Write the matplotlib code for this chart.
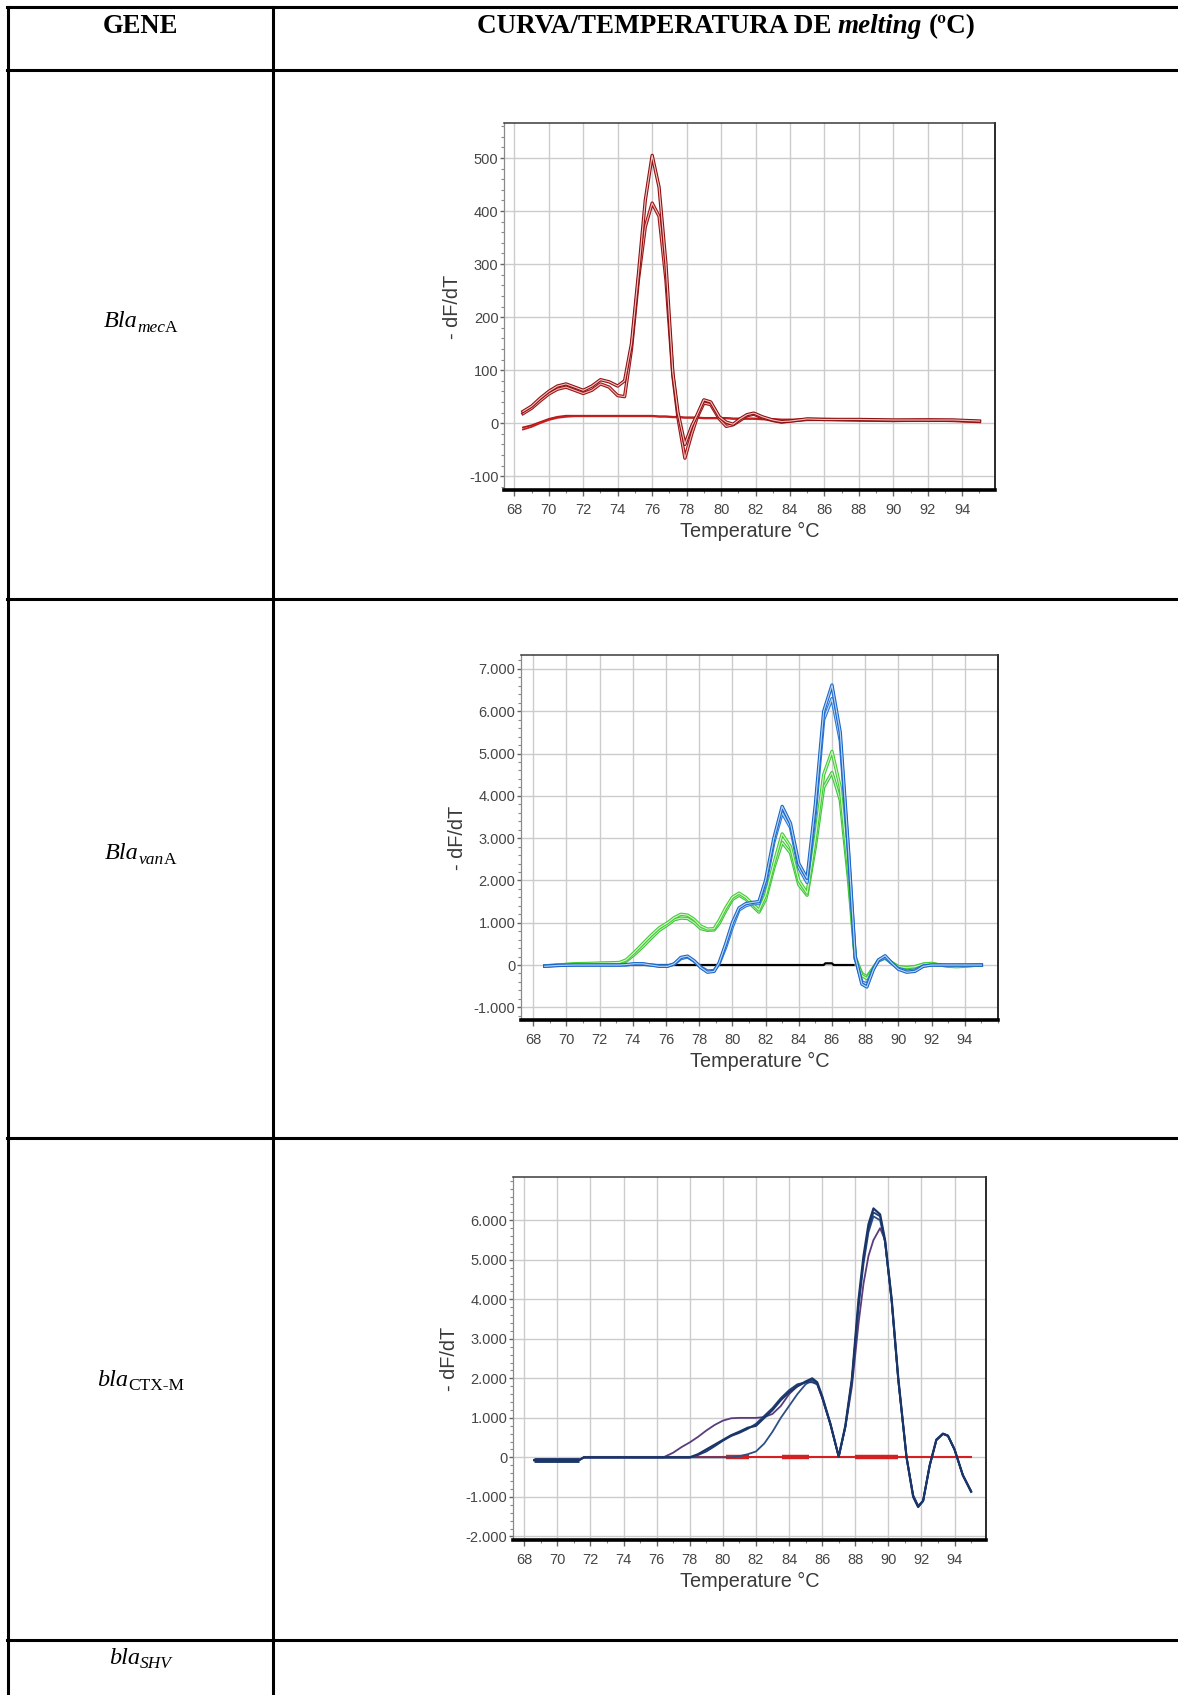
import numpy as np
import matplotlib
matplotlib.use('Agg')
import matplotlib.pyplot as plt
from matplotlib.ticker import MultipleLocator

# tamanho da figura em pixels
W, H = 1178, 1695

# ---------------- dados: mecA ----------------
mec_T = [68.5, 69, 69.5, 70, 70.5, 71, 71.5, 72, 72.5, 73, 73.5, 74, 74.4, 74.8, 75.2, 75.6,
         76, 76.4, 76.8, 77.2, 77.5, 77.9, 78.3, 78.6, 79, 79.4, 79.9, 80.3, 80.7, 81.1,
         81.5, 81.9, 82.4, 83, 83.5, 84, 85, 86, 88, 90, 92, 93.5, 95]
mec_a = [22, 32, 47, 60, 70, 74, 68, 62, 70, 82, 78, 70, 80, 150, 280, 420,
         505, 445, 300, 95, 20, -40, -5, 15, 44, 40, 12, 2, -2, 8,
         16, 19, 12, 6, 3, 4, 8, 7, 7, 6, 6, 6, 4]
mec_b = [18, 28, 42, 55, 64, 68, 62, 56, 62, 74, 68, 52, 50, 140, 270, 370,
         415, 390, 270, 90, 10, -66, -20, 10, 38, 35, 8, -6, -3, 5,
         14, 17, 10, 5, 2, 4, 7, 7, 6, 5, 6, 5, 3]
mec_c = [-8, -4, 2, 8, 12, 14, 14, 14, 14, 14, 14, 14, 14, 14, 14, 14,
         14, 13, 13, 12, 12, 11, 11, 11, 10, 10, 10, 10, 9, 9,
         9, 9, 8, 8, 7, 7, 7, 7, 6, 6, 5, 5, 4]
mec_d = [-12, -7, 0, 6, 10, 12, 13, 13, 13, 13, 13, 13, 13, 13, 13, 13,
         13, 12, 12, 11, 11, 10, 10, 10, 9, 9, 9, 9, 8, 8,
         8, 8, 7, 7, 6, 6, 6, 6, 5, 5, 4, 4, 3]

# ---------------- dados: vanA ----------------
van_T = [68.7, 69.5, 70.5, 71.5, 72.5, 73.2, 73.6, 74.1, 74.6, 75.1, 75.6, 76.1, 76.5, 76.9,
         77.3, 77.7, 78.1, 78.5, 78.9, 79.2, 79.6, 80.0, 80.4, 80.8, 81.2, 81.6, 82.0, 82.5,
         83.0, 83.5, 84.0, 84.5, 85.0, 85.5, 86.0, 86.5, 87.0, 87.4, 87.8, 88.1, 88.5, 88.8,
         89.2, 89.6, 90.0, 90.5, 91.0, 91.5, 92.0, 92.5, 93.0, 93.5, 94.0, 94.5, 95.0]
van_blue1 = [-30, -10, 0, 0, 0, 0, 10, 30, 30, 0, -30, -30, 30, 180,
             210, 100, -60, -170, -150, 50, 500, 1000, 1350, 1450, 1480, 1500, 2000, 3000,
             3750, 3350, 2400, 2050, 3800, 6000, 6620, 5500, 2700, 200, -450, -520, -100, 120,
             220, 50, -100, -170, -150, -30, 0, 0, 0, 0, 0, 0, 0]
van_blue2 = [-20, -10, 0, 0, 0, 0, 0, 20, 20, 0, -20, -20, 20, 150,
             190, 90, -50, -140, -130, 30, 420, 900, 1300, 1400, 1450, 1450, 1900, 2900,
             3600, 3250, 2300, 1950, 3600, 5800, 6300, 5300, 2600, 150, -400, -450, -80, 100,
             180, 40, -80, -140, -120, -20, 0, 0, 0, 0, 0, 0, 0]
van_green1 = [-20, 0, 30, 40, 50, 60, 120, 300, 500, 700, 880, 1000, 1120, 1200,
              1180, 1080, 920, 850, 860, 1050, 1350, 1600, 1700, 1600, 1450, 1300, 1650, 2400,
              3100, 2800, 2000, 1700, 3000, 4500, 5050, 4200, 2200, 200, -250, -320, -80, 120,
              180, 60, -40, -60, -40, 20, 40, 0, -30, -40, -30, -10, 0]
van_green2 = [-20, 0, 20, 30, 40, 50, 90, 250, 430, 630, 820, 950, 1070, 1110,
              1100, 1000, 860, 820, 830, 980, 1280, 1550, 1650, 1560, 1400, 1250, 1550, 2300,
              2900, 2650, 1900, 1650, 2800, 4200, 4550, 3900, 2000, 150, -200, -280, -60, 100,
              160, 50, -40, -60, -40, 20, 30, 0, -20, -30, -20, -10, 0]
van_black_T = [74.0, 85.5, 85.6, 86.0, 86.1, 87.3]
van_black = [0, 0, 40, 40, 0, 0]

# ---------------- dados: CTX-M ----------------
ctx_T = [68.6, 69, 70, 71, 71.3, 71.6, 72, 73, 74, 75, 76, 76.4, 77, 77.5, 78, 78.5, 79,
         79.5, 80, 80.5, 81, 81.5, 82, 82.5, 83, 83.5, 84, 84.5, 85, 85.4, 85.7, 86,
         86.5, 87, 87.4, 87.8, 88.2, 88.5, 88.8, 89.1, 89.5, 89.8, 90.2, 90.6, 91.1,
         91.5, 91.8, 92.1, 92.5, 92.9, 93.3, 93.6, 94, 94.5, 95]
ctx_purple = [-70, -70, -70, -70, -70, 0, 0, 0, 0, 0, 0, 0, 120, 260, 380, 520, 680,
              820, 930, 990, 1000, 1000, 1000, 1020, 1100, 1300, 1600, 1800, 1900, 1950, 1850, 1500,
              830, 20, 750, 1800, 3400, 4400, 5100, 5500, 5800, 5500, 4000, 2000, 0,
              -950, -1220, -1100, -200, 430, 590, 540, 200, -450, -850]
ctx_navy1 = [-70, -70, -70, -70, -70, 0, 0, 0, 0, 0, 0, 0, 0, 0, 0, 80, 200,
             320, 440, 560, 650, 750, 800, 1000, 1200, 1450, 1650, 1800, 1920, 2000, 1900, 1550,
             850, 20, 800, 2000, 4000, 5100, 5900, 6300, 6150, 5500, 4000, 2000, 0,
             -1000, -1250, -1100, -200, 450, 600, 550, 200, -450, -870]
ctx_navy2 = [-70, -70, -70, -70, -70, 0, 0, 0, 0, 0, 0, 0, 0, 0, 0, 60, 150,
             280, 420, 540, 620, 720, 850, 1050, 1250, 1500, 1700, 1850, 1900, 1900, 1850, 1520,
             840, 20, 780, 1950, 3900, 5000, 5800, 6200, 6100, 5450, 3950, 1950, 0,
             -980, -1240, -1100, -200, 440, 600, 550, 200, -450, -860]
ctx_navy3 = [-70, -70, -70, -70, -70, 0, 0, 0, 0, 0, 0, 0, 0, 0, 0, 0, 0,
             0, 0, 0, 30, 80, 150, 350, 650, 1000, 1300, 1600, 1850, 1950, 1880, 1540,
             840, 20, 780, 1950, 3800, 4900, 5700, 6100, 6000, 5450, 3950, 1950, 0,
             -990, -1260, -1100, -200, 440, 600, 550, 200, -450, -860]
ctx_red_T = [71.6, 95.0]
ctx_red = [0, 0]
# trechos mais grossos da linha vermelha (inicio, fim)
ctx_red_thick = [(80.2, 81.6), (83.6, 85.2), (88.0, 90.6)]
ctx_neg_T = [68.6, 71.3]
ctx_neg = [-70, -70]

temp_ticks = [68, 70, 72, 74, 76, 78, 80, 82, 84, 86, 88, 90, 92, 94]
mec_yticks = [-100, 0, 100, 200, 300, 400, 500]
mec_ylabels = ['-100', '0', '100', '200', '300', '400', '500']
van_yticks = [-1000, 0, 1000, 2000, 3000, 4000, 5000, 6000, 7000]
van_ylabels = ['-1.000', '0', '1.000', '2.000', '3.000', '4.000', '5.000', '6.000', '7.000']
ctx_yticks = [-2000, -1000, 0, 1000, 2000, 3000, 4000, 5000, 6000]
ctx_ylabels = ['-2.000', '-1.000', '0', '1.000', '2.000', '3.000', '4.000', '5.000', '6.000']

fig = plt.figure(figsize=(W / 100, H / 100), dpi=100)

# eixo "tabela" em pixels
tab = fig.add_axes([0, 0, 1, 1])
tab.set_xlim(0, W)
tab.set_ylim(H, 0)
tab.axis('off')

lw_tab = 2.2
for y in [7, 70, 599, 1138, 1640]:
    tab.plot([7, W], [y, y], color='black', lw=lw_tab, solid_capstyle='projecting')
for x in [8, 273]:
    tab.plot([x, x], [7, H], color='black', lw=lw_tab, solid_capstyle='projecting')

renderer = fig.canvas.get_renderer()


def rich(x, y, parts):
    # parts: (texto, tamanho, estilo, peso, deslocamento y, espaço antes)
    texts, gaps = [], []
    for s, size, style, weight, dy, gap in parts:
        t = tab.text(0, y + dy, s, fontsize=size, fontstyle=style, fontweight=weight,
                     family='Liberation Serif', ha='left', va='baseline', color='black')
        texts.append(t)
        gaps.append(gap)
    widths = [t.get_window_extent(renderer).width for t in texts]
    total = sum(widths) + sum(gaps)
    cur = x - total / 2
    for t, w, g in zip(texts, widths, gaps):
        cur += g
        t.set_x(cur)
        cur += w


rich(140.5, 33, [('GENE', 19.2, 'normal', 'bold', 0, 0)])
rich(726, 33, [('CURVA/TEMPERATURA DE', 19.5, 'normal', 'bold', 0, 0),
               ('melting', 19.5, 'italic', 'bold', 0, 6.5),
               ('(ºC)', 19.5, 'normal', 'bold', 0, 6.5)])
rich(140.5, 327, [('Bla', 17.5, 'italic', 'normal', 0, 0),
                  ('mec', 12.5, 'italic', 'normal', 4.5, 0),
                  ('A', 12.5, 'normal', 'normal', 4.5, 0)])
rich(140.5, 859, [('Bla', 17.5, 'italic', 'normal', 0, 0),
                  ('van', 12.5, 'italic', 'normal', 4.5, 0),
                  ('A', 12.5, 'normal', 'normal', 4.5, 0)])
rich(140.5, 1386, [('bla', 17.5, 'italic', 'normal', 0, 0),
                   ('CTX-M', 12.5, 'normal', 'normal', 4.5, 0)])
rich(140.5, 1664, [('bla', 17.5, 'italic', 'normal', 0, 0),
                   ('SHV', 12.5, 'italic', 'normal', 4.5, 0)])


def make_axes(l, t, r, b):
    return fig.add_axes([l / W, 1 - b / H, (r - l) / W, (b - t) / H])


def style_axes(ax, xlim, ylim, yticks, ylabels, yminor):
    ax.set_xlim(xlim)
    ax.set_ylim(ylim)
    ax.set_xticks(temp_ticks)
    ax.set_xticklabels([str(t) for t in temp_ticks])
    ax.xaxis.set_minor_locator(MultipleLocator(1))
    ax.set_yticks(yticks)
    ax.set_yticklabels(ylabels)
    ax.yaxis.set_minor_locator(MultipleLocator(yminor))
    ax.grid(True, which='major', color='#cccccc', lw=1.0)
    ax.set_axisbelow(True)
    ax.spines['bottom'].set_color('black')
    ax.spines['bottom'].set_linewidth(2.6)
    ax.spines['left'].set_color('#8a8a8a')
    ax.spines['left'].set_linewidth(0.9)
    ax.spines['top'].set_color('#3a3a3a')
    ax.spines['top'].set_linewidth(1.1)
    ax.spines['right'].set_color('#2a2a2a')
    ax.spines['right'].set_linewidth(1.4)
    ax.tick_params(which='major', labelsize=10.5, color='#666666', labelcolor='#454545')
    ax.tick_params(axis='x', which='major', length=4, width=1, pad=5.5)
    ax.tick_params(axis='y', which='major', length=3, width=1, pad=1)
    ax.tick_params(which='minor', length=2, width=0.8, color='#888888')
    for lab in ax.get_xticklabels() + ax.get_yticklabels():
        lab.set_family('Liberation Sans')
    ax.set_xlabel('Temperature °C', fontsize=14.3, color='#3a3a3a', family='Liberation Sans', labelpad=3.5)
    ax.set_ylabel('- dF/dT', fontsize=14.3, color='#3a3a3a', family='Liberation Sans', labelpad=5)


def tube(ax, x, y, outer, inner, lw=2.4):
    ax.plot(x, y, color=outer, lw=lw, solid_joinstyle='round')
    ax.plot(x, y, color=inner, lw=lw * 0.35, solid_joinstyle='round')


# ---- mecA ----
ax1 = make_axes(504, 123, 995, 490)
ax1.plot(mec_T, mec_c, color='#b01818', lw=1.3)
ax1.plot(mec_T, mec_d, color='#c42020', lw=1.3)
tube(ax1, mec_T, mec_b, '#9a1414', '#f2b0b0')
tube(ax1, mec_T, mec_a, '#8c1010', '#f5c0c0')
style_axes(ax1, (67.4, 95.9), (-126, 566), mec_yticks, mec_ylabels, 20)

# ---- vanA ----
ax2 = make_axes(521, 655, 998, 1020)
ax2.plot(van_black_T, van_black, color='black', lw=1.6)
tube(ax2, van_T, van_green2, '#3cc43c', '#c8f2c0')
tube(ax2, van_T, van_green1, '#44cc33', '#d0f5c8')
tube(ax2, van_T, van_blue2, '#2a7ad8', '#bcd8f6')
tube(ax2, van_T, van_blue1, '#1c66c8', '#b8d4f4')
style_axes(ax2, (67.27, 96.0), (-1300, 7330), van_yticks, van_ylabels, 200)

# ---- CTX-M ----
ax3 = make_axes(513, 1177, 986, 1540)
ax3.plot(ctx_red_T, ctx_red, color='#d42020', lw=1.5)
for t0, t1 in ctx_red_thick:
    ax3.plot([t0, t1], [0, 0], color='#d42020', lw=3.2, solid_capstyle='butt')
ax3.plot(ctx_neg_T, ctx_neg, color='#1a3568', lw=3.5, solid_capstyle='butt')
ax3.plot(ctx_T, ctx_purple, color='#5a3c7c', lw=1.3)
ax3.plot(ctx_T, ctx_navy3, color='#2c4f86', lw=1.3)
ax3.plot(ctx_T, ctx_navy2, color='#1f3f78', lw=1.3)
ax3.plot(ctx_T, ctx_navy1, color='#1a3568', lw=1.6)
style_axes(ax3, (67.32, 95.9), (-2090, 7095), ctx_yticks, ctx_ylabels, 200)

fig.savefig('out.png', dpi=100)
